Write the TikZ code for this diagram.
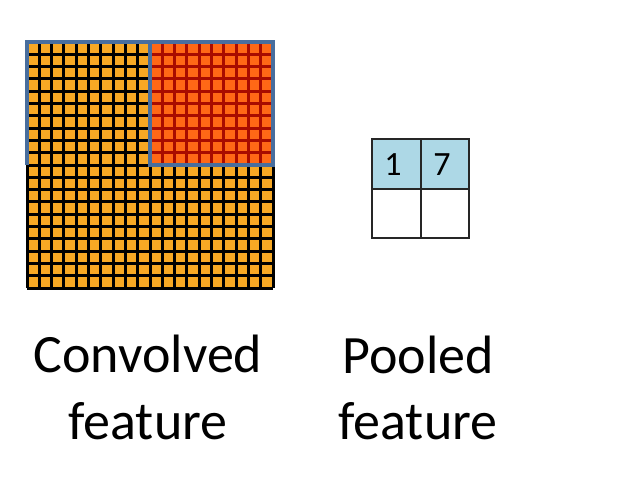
\documentclass[tikz,border=0pt]{standalone}
\usepackage{fontspec}
\setmainfont{Carlito}
\usetikzlibrary{positioning}

\definecolor{cellorange}{RGB}{247,168,36}
\definecolor{cellred}{RGB}{255,104,22}
\definecolor{redline}{RGB}{168,12,0}
\definecolor{winblue}{RGB}{72,110,158}
\definecolor{poolblue}{RGB}{173,216,230}

\tikzset{
  bigtext/.style={font=\fontsize{54}{65}\selectfont, anchor=base, inner sep=0},
  numtext/.style={font=\fontsize{34}{40}\selectfont, inner sep=0},
  poolcell/.style={draw=black!85, line width=2}
}

\begin{document}
\begin{tikzpicture}[x=1pt,y=-1pt]
                \useasboundingbox[fill=white] (0,0) rectangle (628,493);

                % convolved feature map, 20 x 20 cells
                \fill[cellorange] (27,42) rectangle (273,288);
                \foreach \i in {0,...,20} {
                  \draw[black, line width=3] (27+\i*12.3,42) -- (27+\i*12.3,288);
                  \draw[black, line width=3] (27,42+\i*12.3) -- (273,42+\i*12.3);
                }

                % current pooling window (top right)
                \fill[cellred] (150,42) rectangle (273,165);
                \foreach \i in {10,...,20} {
                  \draw[redline, line width=3] (27+\i*12.3,42) -- (27+\i*12.3,165);
                }
                \foreach \j in {0,...,10} {
                  \draw[redline, line width=3] (150,42+\j*12.3) -- (273,42+\j*12.3);
                }

                % window outlines
                \draw[winblue, line width=3.5] (27,165) -- (27,42) -- (150,42);
                \draw[winblue, line width=3.5] (150,42) rectangle (273,165);

                % pooled feature
                \fill[poolblue] (372,139) rectangle (469,188.5);
                \draw[poolcell] (372,139) rectangle (469,238);
                \draw[poolcell] (420.5,139) -- (420.5,238);
                \draw[poolcell] (372,188.5) -- (469,188.5);
                \node[numtext] (pa) at (393,165) {1};
                \node[numtext] (pb) at (442,165) {7};

                % labels
                \node[bigtext] (convA) at (148,372) {Convolved};
                \node[bigtext] (convB) at (148,439) {feature};
                \node[bigtext] (poolA) at (418,373) {Pooled};
                \node[bigtext] (poolB) at (418,439) {feature};
\end{tikzpicture}
\end{document}
